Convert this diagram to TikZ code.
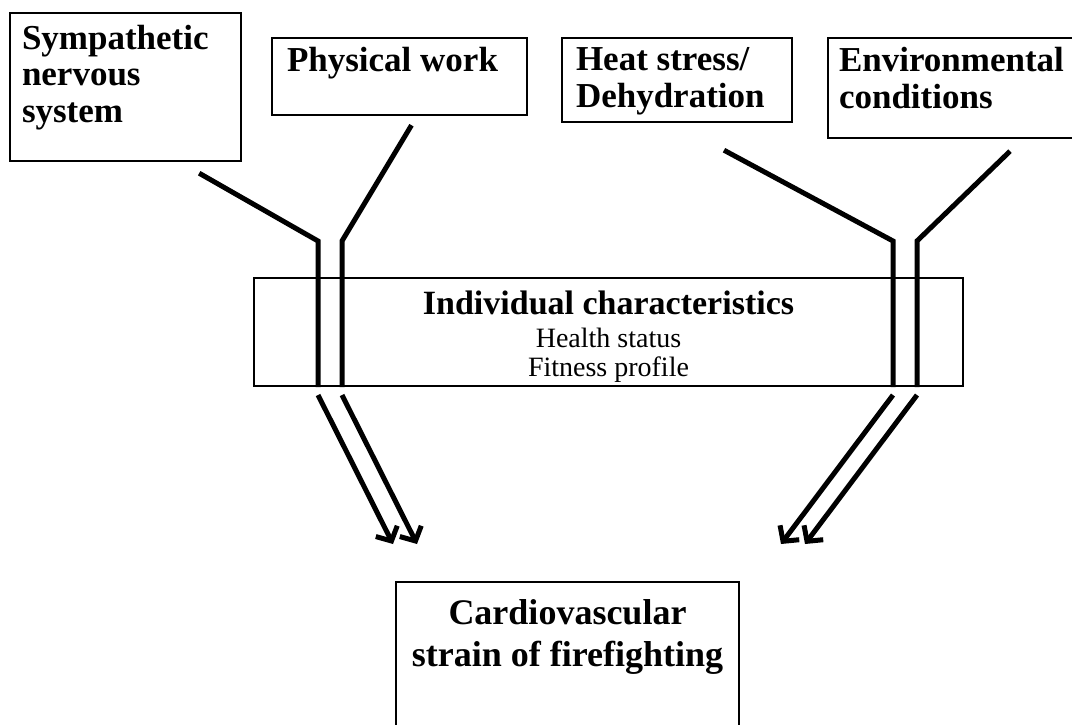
\documentclass[tikz,border=0pt]{standalone}
\usepackage{fontspec}
\setmainfont{Liberation Serif}
\usetikzlibrary{positioning,arrows.meta}

\tikzset{
  factor/.style={draw, line width=2.4pt, inner sep=0pt},
  factortext/.style={anchor=north west, align=left, inner sep=0pt,
    font=\bfseries\fontsize{35}{36.5}\selectfont},
  pipe/.style={line width=5pt},
  feed/.style={line width=5pt, -{Straight Barb[length=11pt,width=24pt]}},
}

\begin{document}
\begin{tikzpicture}[x=1pt, y=-1pt]
  \useasboundingbox (0,0) rectangle (1072,724);

  % Factors
  \node[factor, minimum width=231, minimum height=148] (sns) at (125.5,87) {};
  \node[factor, minimum width=255, minimum height=77] (pw) at (399.5,76.5) {};
  \node[factor, minimum width=230, minimum height=84] (hs) at (677,80) {};
  \node[factor, minimum width=246, minimum height=100] (env) at (951,88) {};

  \node[factortext] (sns-text) at ([xshift=13pt, yshift=-13pt]sns.north west) {Sympathetic\\nervous\\system};
  \node[factortext] (pw-text) at ([xshift=16pt, yshift=-10.5pt]pw.north west) {Physical work};
  \node[factortext] (hs-text) at ([xshift=15pt, yshift=-10.5pt]hs.north west) {Heat stress/\\Dehydration};
  \node[factortext] (env-text) at ([xshift=12pt, yshift=-10.5pt]env.north west) {Environmental\\conditions};

  % Individual characteristics
  \node[factor, minimum width=709, minimum height=108] (ind) at (608.5,332) {};
  \node[anchor=north, align=center, inner sep=0pt, font=\fontsize{28}{29.5}\selectfont]
    (ind-text) at ([yshift=-14pt]ind.north)
    {{\bfseries\fontsize{34}{36}\selectfont Individual characteristics}\\[3pt]Health status\\Fitness profile};

  % Outcome
  \node[factor, minimum width=343, minimum height=160] (cvs) at (567.5,662) {};
  \node[anchor=north, align=center, inner sep=0pt, font=\bfseries\fontsize{36}{42}\selectfont]
    (cvs-text) at ([yshift=-19pt]cvs.north) {Cardiovascular\\strain of firefighting};

  % Strands
  \coordinate[below left=11pt and 43pt of sns.south east] (sns-out);
  \coordinate[below right=9pt and 12pt of pw.south] (pw-out);
  \coordinate[below right=27pt and 47pt of hs.south] (hs-out);
  \coordinate[below right=12pt and 59pt of env.south] (env-out);

  \coordinate (sns-bend) at (318,241);
  \coordinate (pw-bend) at (342,241);
  \coordinate (hs-bend) at (893,241);
  \coordinate (env-bend) at (917,241);

  \draw[pipe] (sns-out) -- (sns-bend) -- (sns-bend |- ind.south);
  \draw[pipe] (pw-out) -- (pw-bend) -- (pw-bend |- ind.south);
  \draw[pipe] (hs-out) -- (hs-bend) -- (hs-bend |- ind.south);
  \draw[pipe] (env-out) -- (env-bend) -- (env-bend |- ind.south);

  % Arrows
  \coordinate (sns-in) at (318,395);
  \coordinate (pw-in) at (342,395);
  \coordinate (hs-in) at (893,395);
  \coordinate (env-in) at (917,395);
  \coordinate (sns-tip) at (393,544);
  \coordinate (pw-tip) at (417,544);
  \coordinate (hs-tip) at (781,544);
  \coordinate (env-tip) at (805,544);

  \draw[feed] (sns-in) -- (sns-tip);
  \draw[feed] (pw-in) -- (pw-tip);
  \draw[feed] (hs-in) -- (hs-tip);
  \draw[feed] (env-in) -- (env-tip);
\end{tikzpicture}
\end{document}
